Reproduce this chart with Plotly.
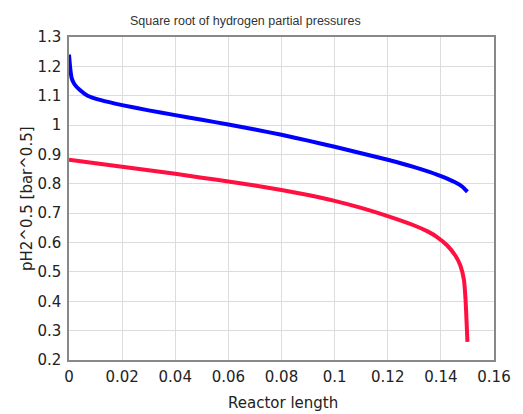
import plotly.graph_objects as go

# Reactor length positions (m)
x_blue = [0, 0.0005, 0.001, 0.002, 0.004, 0.007, 0.012, 0.02, 0.03, 0.04, 0.05,
          0.06, 0.07, 0.08, 0.09, 0.1, 0.11, 0.12, 0.13, 0.139, 0.145, 0.148, 0.15]
y_blue = [1.24, 1.19, 1.16, 1.14, 1.12, 1.10, 1.085, 1.068, 1.05, 1.034, 1.018,
          1.002, 0.985, 0.967, 0.947, 0.926, 0.904, 0.882, 0.857, 0.83, 0.807, 0.791, 0.773]

x_red = [0, 0.01, 0.02, 0.03, 0.04, 0.05, 0.06, 0.07, 0.08, 0.09, 0.1, 0.11, 0.12,
         0.13, 0.135, 0.1387, 0.1424, 0.1455, 0.1474, 0.1487, 0.1493, 0.1497, 0.15]
y_red = [0.882, 0.87, 0.858, 0.846, 0.834, 0.821, 0.808, 0.794, 0.779, 0.762, 0.742,
         0.718, 0.69, 0.658, 0.638, 0.618, 0.59, 0.555, 0.52, 0.472, 0.404, 0.325, 0.262]

x_ticks = [0, 0.02, 0.04, 0.06, 0.08, 0.1, 0.12, 0.14, 0.16]
x_ticklabels = ["0", "0.02", "0.04", "0.06", "0.08", "0.1", "0.12", "0.14", "0.16"]
y_ticks = [0.2, 0.3, 0.4, 0.5, 0.6, 0.7, 0.8, 0.9, 1.0, 1.1, 1.2, 1.3]
y_ticklabels = ["0.2", "0.3", "0.4", "0.5", "0.6", "0.7", "0.8", "0.9", "1", "1.1", "1.2", "1.3"]

fig = go.Figure()
fig.add_trace(go.Scatter(x=x_blue, y=y_blue, mode="lines",
                         line=dict(color="#0000ff", width=4, shape="spline", smoothing=0.5)))
fig.add_trace(go.Scatter(x=x_red, y=y_red, mode="lines",
                         line=dict(color="#ff1040", width=4, shape="spline", smoothing=0.5)))

tickfont = dict(family="DejaVu Sans", size=15, color="#222222")
fig.update_layout(
    width=523, height=414,
    margin=dict(l=69, r=26, t=37, b=54),
    paper_bgcolor="white", plot_bgcolor="white",
    showlegend=False,
    xaxis=dict(range=[0, 0.16], tickvals=x_ticks, ticktext=x_ticklabels,
               showgrid=True, gridcolor="#dcdcdc", gridwidth=1,
               showline=True, linecolor="#888888", linewidth=1.5, mirror=True,
               zeroline=False, ticks="", tickfont=tickfont, ticklabelstandoff=2),
    yaxis=dict(range=[0.2, 1.3], tickvals=y_ticks, ticktext=y_ticklabels,
               showgrid=True, gridcolor="#dcdcdc", gridwidth=1,
               showline=True, linecolor="#888888", linewidth=1.5, mirror=True,
               zeroline=False, ticks="", tickfont=tickfont, ticklabelstandoff=3),
    annotations=[
        dict(text="Square root of hydrogen partial pressures", xref="paper", yref="paper",
             x=0.416, y=1.05, xanchor="center", yanchor="middle", showarrow=False,
             font=dict(family="Liberation Sans", size=12.5, color="#333333")),
        dict(text="Reactor length", xref="paper", yref="paper",
             x=0.503, y=-0.133, xanchor="center", yanchor="middle", showarrow=False,
             font=dict(family="DejaVu Sans", size=15, color="#222222")),
        dict(text="pH2^0.5 [bar^0.5]", xref="paper", yref="paper",
             x=-0.1, y=0.5, xanchor="center", yanchor="middle", showarrow=False,
             textangle=-90,
             font=dict(family="DejaVu Sans", size=15, color="#222222")),
    ],
)

fig.write_html("out.html")
